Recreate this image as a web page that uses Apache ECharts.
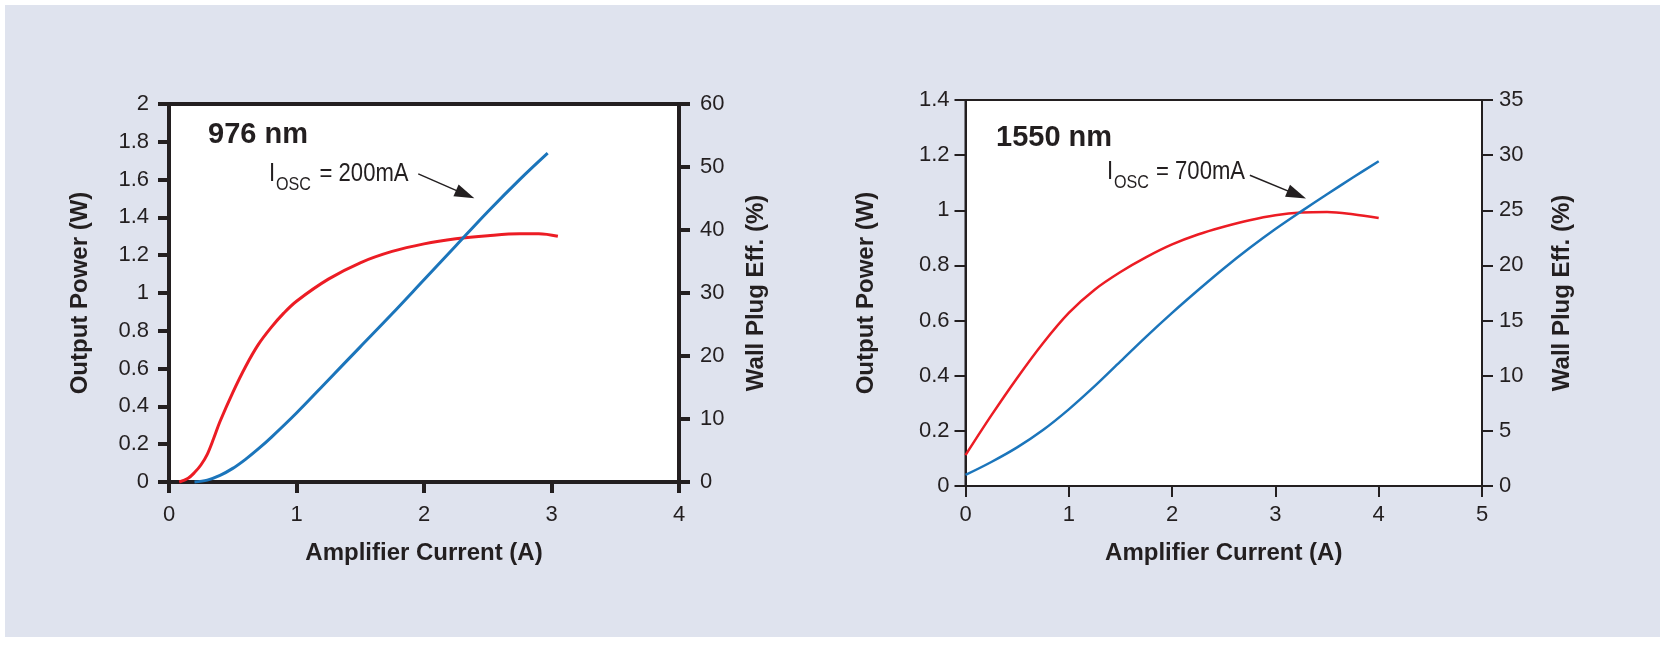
<!DOCTYPE html>
<html><head><meta charset="utf-8">
<script src="https://cdn.jsdelivr.net/npm/echarts@6/dist/echarts.min.js"></script>
<style>
html,body{margin:0;padding:0;background:#fff;}
#bg{position:absolute;left:5px;top:5px;width:1655px;height:632px;background:#dfe3ee;}
#chart{position:absolute;left:0;top:0;width:1675px;height:651px;}
</style></head><body>
<div id="bg"></div><div id="chart"></div>
<script>
// ---------- data (976 nm panel) ----------
const leftPowerCurrent = [0.2,0.3,0.4,0.5,0.6,0.7,0.8,1.0,1.25,1.5,1.75,2.0,2.25,2.5,2.75,2.97];
const leftPower        = [0,0.01,0.035,0.072,0.12,0.175,0.235,0.365,0.54,0.715,0.89,1.07,1.25,1.43,1.6,1.74];
const leftEffCurrent   = [0.08,0.15,0.2,0.25,0.3,0.35,0.4,0.5,0.6,0.7,0.8,0.9,1.0,1.25,1.5,1.75,2.0,2.25,2.5,2.75,2.9,3.05];
const leftEff          = [0,0.6,1.5,2.7,4.4,6.9,9.6,14.2,18.3,21.8,24.5,26.8,28.7,32.2,34.8,36.6,37.8,38.6,39.1,39.4,39.4,39.0];
// ---------- data (1550 nm panel) ----------
const rightCurrent = [0,0.25,0.5,0.75,1.0,1.25,1.5,1.75,2.0,2.25,2.5,2.75,3.0,3.25,3.5,3.75,4.0];
const rightPower   = [0.04,0.087,0.14,0.203,0.278,0.362,0.452,0.542,0.628,0.71,0.789,0.863,0.932,0.996,1.058,1.119,1.178];
const rightEff     = [2.8,6.4,9.8,12.95,15.7,17.8,19.4,20.75,21.9,22.8,23.5,24.1,24.55,24.8,24.85,24.65,24.3];
// ---------- axis ranges ----------
const leftX  = {min:0, max:4, step:1};
const leftY  = {min:0, max:2, step:0.2};
const leftY2 = {min:0, max:60, step:10};
const rightX  = {min:0, max:5, step:1};
const rightY  = {min:0, max:1.4, step:0.2};
const rightY2 = {min:0, max:35, step:5};
// ---------- texts ----------
const panelTitles = ['976 nm', '1550 nm'];
const oscCurrents = ['= 200mA', '= 700mA'];
const xName = 'Amplifier Current (A)';
const yName = 'Output Power (W)';
const y2Name = 'Wall Plug Eff. (%)';
// annotation arrows (data coords: start, head)
const leftArrow  = [[1.955,1.63],[2.323,1.522]];
const rightArrow = [[2.753,1.127],[3.207,1.057]];

const INK = '#231f20', RED = '#ec1c24', BLUE = '#1b75bb';
const FONT = '"Liberation Sans", Arial, sans-serif';

function pairs(xs, ys){ return xs.map((x,i)=>[x, ys[i]]); }

function axis(o){
  return Object.assign({
    type:'value', min:o.r.min, max:o.r.max, interval:o.r.step,
    axisLine:{show:true, onZero:false, lineStyle:{color:INK, width:o.w}},
    axisTick:{show:true, inside:false, length:11, lineStyle:{color:INK, width:o.w}},
    axisLabel:{margin:o.margin, fontSize:22, color:INK, fontFamily:FONT},
    splitLine:{show:false},
    name:o.name, nameLocation:'middle', nameGap:o.gap, nameMoveOverlap:false,
    nameTextStyle:{fontSize:24, fontWeight:'bold', color:INK, fontFamily:FONT}
  }, o.extra);
}

function arrowLine(a){
  return {
    silent:true, symbol:['none','triangle'], symbolSize:[13,20],
    lineStyle:{color:INK, width:1.5, type:'solid'}, itemStyle:{color:INK},
    label:{show:false}, emphasis:{disabled:true}, animation:false,
    data:[[{coord:a[0]},{coord:a[1]}]]
  };
}

function lineSeries(xi, yi, xs, ys, color, width, extra){
  return Object.assign({
    type:'line', xAxisIndex:xi, yAxisIndex:yi, data:pairs(xs, ys),
    showSymbol:false, smooth:0.35,
    lineStyle:{color:color, width:width}, itemStyle:{color:color},
    emphasis:{disabled:true}, silent:true, clip:false
  }, extra||{});
}

function txt(x, y, text, font, sx){
  return {type:'text', x:x, y:y, scaleX:sx||1, silent:true,
    style:{text:text, font:font, fill:INK, align:'left', verticalAlign:'middle'}};
}

const chart = echarts.init(document.getElementById('chart'), null, {renderer:'canvas'});
chart.setOption({
  animation:false,
  backgroundColor:'transparent',
  grid:[
    {left:169, top:104, width:510, height:378, show:true, backgroundColor:'#fff', borderColor:INK, borderWidth:4, outerBoundsMode:'none', containLabel:false},
    {left:965.5, top:100, width:516.5, height:386, show:true, backgroundColor:'#fff', borderColor:INK, borderWidth:2, outerBoundsMode:'none', containLabel:false}
  ],
  xAxis:[
    axis({r:leftX, w:4, margin:22, name:xName, gap:59, extra:{gridIndex:0}}),
    axis({r:rightX, w:2, margin:18, name:xName, gap:55, extra:{gridIndex:1}})
  ],
  yAxis:[
    axis({r:leftY, w:4, margin:20, name:yName, gap:77, extra:{gridIndex:0, position:'left', nameRotate:90}}),
    axis({r:leftY2, w:4, margin:21, name:y2Name, gap:65, extra:{gridIndex:0, position:'right', nameRotate:90}}),
    axis({r:rightY, w:2, margin:16, name:yName, gap:87, extra:{gridIndex:1, position:'left', nameRotate:90}}),
    axis({r:rightY2, w:2, margin:17, name:y2Name, gap:68, extra:{gridIndex:1, position:'right', nameRotate:90}})
  ],
  series:[
    lineSeries(0, 1, leftEffCurrent, leftEff, RED, 3),
    lineSeries(0, 0, leftPowerCurrent, leftPower, BLUE, 3, {markLine:arrowLine(leftArrow)}),
    lineSeries(1, 3, rightCurrent, rightEff, RED, 2.5),
    lineSeries(1, 2, rightCurrent, rightPower, BLUE, 2.5, {markLine:arrowLine(rightArrow)})
  ],
  graphic:[
    txt(208, 135, panelTitles[0], 'bold 29px ' + FONT),
    txt(996, 138, panelTitles[1], 'bold 29px ' + FONT),
    txt(269, 173.5, 'I', '26px ' + FONT, 0.85),
    txt(276, 185, 'OSC', '19px ' + FONT, 0.85),
    txt(319.5, 173.5, oscCurrents[0], '26px ' + FONT, 0.85),
    txt(1107, 171.5, 'I', '26px ' + FONT, 0.85),
    txt(1114, 183, 'OSC', '19px ' + FONT, 0.85),
    txt(1156, 171.5, oscCurrents[1], '26px ' + FONT, 0.85)
  ]
});
</script></body></html>
